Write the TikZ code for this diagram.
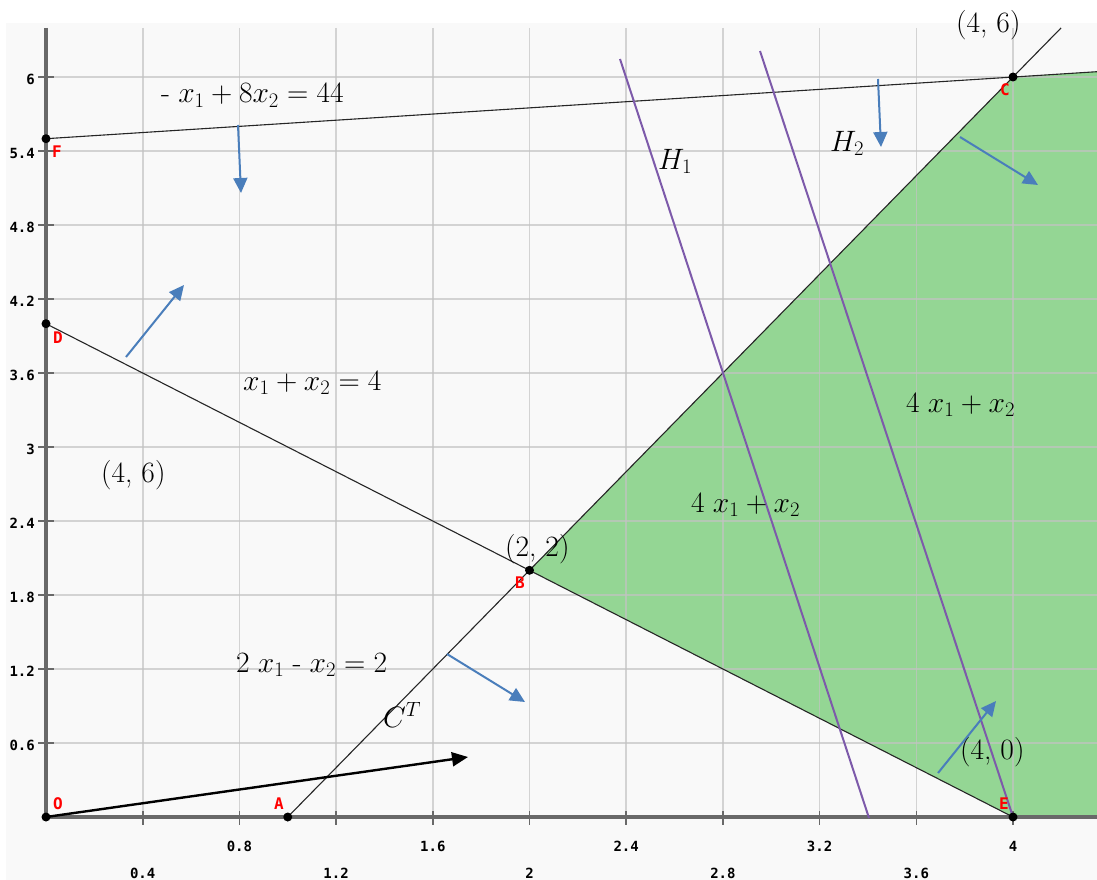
\RequirePackage{fix-cm}
\documentclass[tikz,border=0pt]{standalone}
\usepackage{fontspec}
\newfontfamily\tickfont{DejaVu Sans Mono}
\usetikzlibrary{arrows.meta}
\definecolor{bgpanel}{RGB}{249,249,249}
\definecolor{gridc}{RGB}{195,195,195}
\definecolor{axisc}{RGB}{105,105,105}
\definecolor{feas}{RGB}{148,214,148}
\definecolor{normc}{RGB}{74,126,187}
\definecolor{hypc}{RGB}{125,90,170}
\definecolor{ptlab}{RGB}{255,0,0}
\begin{document}
\begin{tikzpicture}[x=1pt,y=-1pt,
  gridline/.style={draw=gridc, draw opacity=0.7, line width=1.6pt},
  axisline/.style={draw=axisc, line width=3.2pt},
  tickline/.style={draw=axisc, line width=1.6pt},
  constraint/.style={draw=black!85, line width=1.1pt},
  normalvec/.style={draw=normc, line width=2pt, -{Triangle[length=15pt,width=14pt]}},
  costvec/.style={draw=black, line width=2.4pt, -{Triangle[length=16pt,width=14pt]}},
  hyper/.style={draw=hypc, line width=2pt},
  vertex/.style={circle, fill=black, inner sep=0pt, minimum size=9pt},
  ptname/.style={text=ptlab, font=\tickfont\bfseries\fontsize{16}{16}\selectfont, inner sep=0pt},
  ticklab/.style={font=\tickfont\bfseries\fontsize{14}{14}\selectfont, inner sep=0pt},
  mathlab/.style={font=\fontsize{29.5}{32}\selectfont, inner sep=0pt, anchor=base west},
]
\useasboundingbox (0,0) rectangle (1097,880);
\fill[white] (0,0) rectangle (1097,880);
\fill[bgpanel] (6,23) rectangle (1097,880);

% key points
\coordinate (O) at (46,817);
\coordinate (A) at (287.75,817);
\coordinate (B) at (529.5,570.3);
\coordinate (C) at (1013,77);
\coordinate (D) at (46,323.7);
\coordinate (E) at (1013,817);
\coordinate (F) at (46,138.7);
\coordinate (Fend) at (1097,71.7);
\coordinate (Aend) at (1061,28);
\coordinate (Rbot) at (1097,817);

% feasible region
\fill[feas] (B) -- (C) -- (Fend) -- (Rbot) -- (E) -- cycle;

% grid
\foreach \k in {1,...,10} {
  \draw[gridline] ({46+96.7*\k},28) -- ({46+96.7*\k},817);
  \draw[gridline] (46,{817-74*\k}) -- (1097,{817-74*\k});
}

% axes and ticks
\draw[axisline] (46,28) -- (O) -- (Rbot);
\foreach \k in {1,...,10} {
  \draw[tickline] ({46+96.7*\k},811) -- ({46+96.7*\k},825);
  \draw[tickline] (38,{817-74*\k}) -- (54,{817-74*\k});
}
\foreach \k/\t in {1/0.6,2/1.2,3/1.8,4/2.4,5/3,6/3.6,7/4.2,8/4.8,9/5.4,10/6}
  \node[ticklab, anchor=east] (yl\k) at (35,{819-74*\k}) {\t};
\foreach \k/\t in {1/0.4,3/1.2,5/2,7/2.8,9/3.6}
  \node[ticklab] (xl\k) at ({46+96.7*\k},873) {\t};
\foreach \k/\t in {2/0.8,4/1.6,6/2.4,8/3.2,10/4}
  \node[ticklab] (xl\k) at ({46+96.7*\k},846) {\t};

% constraint lines
\draw[constraint] (F) -- (Fend);
\draw[constraint] (D) -- (E);
\draw[constraint] (A) -- (Aend);

% level lines H1, H2
\coordinate (H1a) at (620,59);
\coordinate (H1b) at (869,818);
\coordinate (H2a) at (760,51);
\draw[hyper] (H1a) -- (H1b);
\draw[hyper] (H2a) -- (E);

% normal vectors
\coordinate (n1a) at (238,125);  \coordinate (n1b) at (241,193);
\coordinate (n2a) at (126,357);  \coordinate (n2b) at (184,285);
\coordinate (n3a) at (447,654);  \coordinate (n3b) at (525,702);
\coordinate (n4a) at (960,137);  \coordinate (n4b) at (1038,185);
\coordinate (n5a) at (878,79);   \coordinate (n5b) at (881,147);
\coordinate (n6a) at (938,773);  \coordinate (n6b) at (996,701);
\draw[normalvec] (n1a) -- (n1b);
\draw[normalvec] (n2a) -- (n2b);
\draw[normalvec] (n3a) -- (n3b);
\draw[normalvec] (n4a) -- (n4b);
\draw[normalvec] (n5a) -- (n5b);
\draw[normalvec] (n6a) -- (n6b);

% cost vector
\coordinate (cT) at (468,757);
\draw[costvec] (O) -- (cT);

% vertices
\foreach \p in {O,A,B,C,D,E,F}
  \node[vertex] (v\p) at (\p) {};

% point names
\node[ptname] (lO) at (58,804) {O};
\node[ptname] (lA) at (279,804) {A};
\node[ptname] (lB) at (520,583) {B};
\node[ptname] (lC) at (1005,90) {C};
\node[ptname] (lD) at (58,338) {D};
\node[ptname] (lE) at (1004,804) {E};
\node[ptname] (lF) at (57,152) {F};

% labels
\node[mathlab] (t1) at (161,103) {$\mbox{-}\; x_1 + 8x_2 = 44$};
\node[mathlab] (t2) at (658,169) {$H_1$};
\node[mathlab] (t3) at (830,151) {$H_2$};
\node[mathlab] (t4) at (956,33) {(4, 6)};
\node[mathlab] (t5) at (243,390) {$x_1 + x_2 = 4$};
\node[mathlab] (t6) at (101,482) {(4, 6)};
\node[mathlab] (t7) at (906,412) {$4\;x_1 + x_2$};
\node[mathlab] (t8) at (691,512) {$4\;x_1 + x_2$};
\node[mathlab] (t9) at (505,556) {(2, 2)};
\node[mathlab] (t10) at (236,672) {$2\;x_1\;\mbox{-}\;x_2 = 2$};
\node[mathlab] (t11) at (383,727) {$C^T$};
\node[mathlab] (t12) at (960,759) {(4, 0)};
\end{tikzpicture}
\end{document}
